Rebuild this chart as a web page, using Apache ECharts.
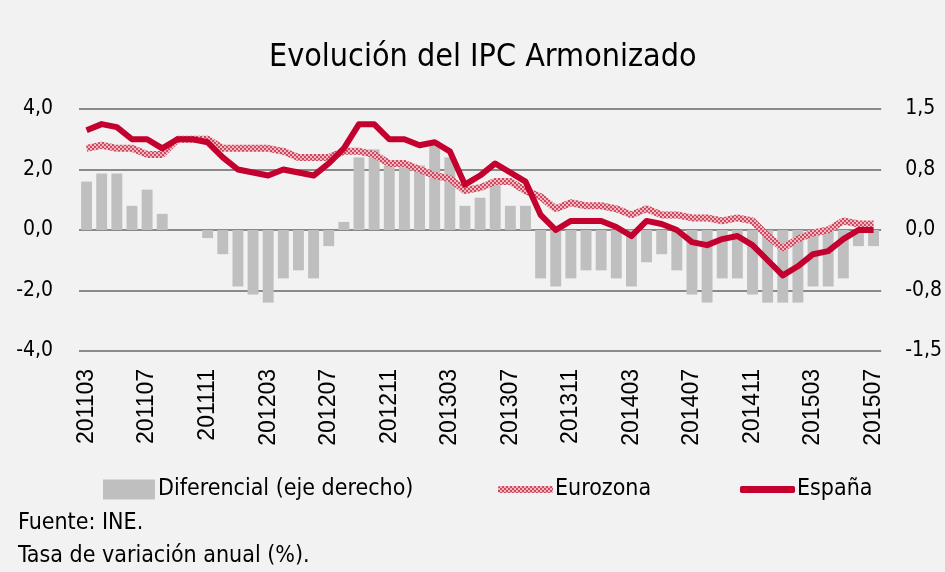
<!DOCTYPE html>
<html>
<head>
<meta charset="utf-8">
<script src="https://cdn.jsdelivr.net/npm/echarts@6/dist/echarts.min.js"></script>
<style>
  html, body { margin: 0; padding: 0; background: #f2f2f2; }
  #chart { width: 945px; height: 572px; }
</style>
</head>
<body>
<div id="chart"></div>
<script>
const months = ['201103','201104','201105','201106','201107','201108','201109','201110','201111','201112',
  '201201','201202','201203','201204','201205','201206','201207','201208','201209','201210','201211','201212',
  '201301','201302','201303','201304','201305','201306','201307','201308','201309','201310','201311','201312',
  '201401','201402','201403','201404','201405','201406','201407','201408','201409','201410','201411','201412',
  '201501','201502','201503','201504','201505','201506','201507'];

const espana = [3.3,3.5,3.4,3.0,3.0,2.7,3.0,3.0,2.9,2.4,
  2.0,1.9,1.8,2.0,1.9,1.8,2.2,2.7,3.5,3.5,
  3.0,3.0,2.8,2.9,2.6,1.5,1.8,2.2,1.9,1.6,
  0.5,0.0,0.3,0.3,0.3,0.1,-0.2,0.3,0.2,0.0,
  -0.4,-0.5,-0.3,-0.2,-0.5,-1.0,-1.5,-1.2,-0.8,-0.7,
  -0.3,0.0,0.0];

const eurozona = [2.7,2.8,2.7,2.7,2.5,2.5,3.0,3.0,3.0,2.7,
  2.7,2.7,2.7,2.6,2.4,2.4,2.4,2.6,2.6,2.5,
  2.2,2.2,2.0,1.8,1.7,1.3,1.4,1.6,1.6,1.3,
  1.1,0.7,0.9,0.8,0.8,0.7,0.5,0.7,0.5,0.5,
  0.4,0.4,0.3,0.4,0.3,-0.2,-0.6,-0.3,-0.1,0.0,
  0.3,0.2,0.2];

// diferencial, eje derecho
const diferencial = [0.6,0.7,0.7,0.3,0.5,0.2,0,0,-0.1,-0.3,
  -0.7,-0.8,-0.9,-0.6,-0.5,-0.6,-0.2,0.1,0.9,1.0,
  0.8,0.8,0.8,1.1,0.9,0.3,0.4,0.6,0.3,0.3,
  -0.6,-0.7,-0.6,-0.5,-0.5,-0.6,-0.7,-0.4,-0.3,-0.5,
  -0.8,-0.9,-0.6,-0.6,-0.8,-0.9,-0.9,-0.9,-0.7,-0.7,
  -0.6,-0.2,-0.2];

const FONT = "'Liberation Sans Narrow', 'DejaVu Sans Condensed', 'Liberation Sans', sans-serif";
const comma = v => v.toFixed(1).replace('.', ',');

// hatched pink texture for the eurozona line
function hatch() {
  const c = document.createElement('canvas');
  c.width = 4; c.height = 4;
  const g = c.getContext('2d');
  g.fillStyle = '#f0b8c0';
  g.fillRect(0, 0, 4, 4);
  g.fillStyle = '#cf4a5f';
  g.fillRect(0, 0, 2, 2);
  g.fillRect(2, 2, 2, 2);
  return { image: c, repeat: 'repeat' };
}
const pink = hatch();

const chart = echarts.init(document.getElementById('chart'));
chart.setOption({
  backgroundColor: '#f2f2f2',
  animation: false,
  textStyle: { fontFamily: FONT },
  title: {
    text: 'Evolución del IPC Armonizado',
    left: 264, top: 37,
    textStyle: { fontFamily: FONT, fontSize: 32, fontWeight: 'normal', color: '#000' }
  },
  grid: { left: 79, right: 63, top: 109, bottom: 221 },
  legend: [
    {
      data: [{ name: 'Diferencial (eje derecho)', icon: 'rect' }],
      left: 103, top: 478, padding: 0, itemWidth: 52, itemHeight: 20,
      textStyle: { fontFamily: FONT, fontSize: 23, color: '#000', padding: [0, 0, 0, -2] }
    },
    {
      data: [{ name: 'Eurozona', icon: 'roundRect', itemStyle: { color: pink } }],
      left: 498, top: 478, padding: 0, itemWidth: 55, itemHeight: 7,
      textStyle: { fontFamily: FONT, fontSize: 23, color: '#000', padding: [0, 0, 0, -3] }
    },
    {
      data: [{ name: 'España', icon: 'roundRect' }],
      left: 740, top: 478, padding: 0, itemWidth: 55, itemHeight: 7,
      textStyle: { fontFamily: FONT, fontSize: 23, color: '#000', padding: [0, 0, 0, -3] }
    }
  ],
  xAxis: {
    type: 'category',
    data: months,
    boundaryGap: true,
    axisLine: { show: false },
    axisTick: { show: false },
    axisLabel: {
      interval: 3, rotate: 90, margin: 18,
      fontFamily: "'Liberation Sans', Arial, sans-serif", fontSize: 23, color: '#000'
    }
  },
  yAxis: [
    {
      type: 'value', min: -4, max: 4, interval: 2,
      axisLabel: { formatter: comma, fontSize: 21, color: '#000', margin: 26 },
      splitLine: { lineStyle: { color: '#8a8a8a', width: 2 } },
      axisLine: { show: false }, axisTick: { show: false }
    },
    {
      type: 'value', min: -1.5, max: 1.5, interval: 0.75,
      axisLabel: { formatter: comma, fontSize: 21, color: '#000', margin: 24 },
      splitLine: { show: false },
      axisLine: { show: false }, axisTick: { show: false }
    }
  ],
  series: [
    {
      name: 'Diferencial (eje derecho)',
      type: 'bar', yAxisIndex: 1,
      data: diferencial,
      barWidth: '72%',
      itemStyle: { color: '#bfbfbf' }
    },
    {
      name: 'Eurozona',
      type: 'line', data: eurozona,
      symbol: 'none',
      lineStyle: { color: pink, width: 7 },
      itemStyle: { color: pink }
    },
    {
      name: 'España',
      type: 'line', data: espana,
      symbol: 'none',
      lineStyle: { color: '#c4002f', width: 6, join: 'round' },
      itemStyle: { color: '#c4002f' }
    }
  ],
  graphic: [
    { type: 'text', left: 18, top: 512, style: { text: 'Fuente: INE.', fontFamily: FONT, fontSize: 23, fill: '#000' } },
    { type: 'text', left: 18, top: 545, style: { text: 'Tasa de variación anual (%).', fontFamily: FONT, fontSize: 23, fill: '#000' } }
  ]
});
</script>
</body>
</html>
